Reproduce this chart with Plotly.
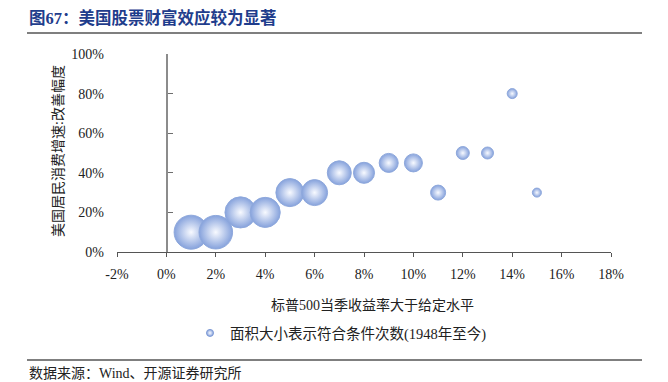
import plotly.graph_objects as go

# ---- data ----
x_levels = [0.01, 0.02, 0.03, 0.04, 0.05, 0.06, 0.07, 0.08, 0.09, 0.10, 0.11, 0.12, 0.13, 0.14, 0.15]
y_improve = [0.10, 0.10, 0.20, 0.20, 0.30, 0.30, 0.40, 0.40, 0.45, 0.45, 0.30, 0.50, 0.50, 0.80, 0.30]
counts = [185, 180, 155, 145, 126, 108, 92, 71, 58, 52, 36, 27, 23, 16, 13]
x_ticks = [-0.02, 0.0, 0.02, 0.04, 0.06, 0.08, 0.10, 0.12, 0.14, 0.16, 0.18]
x_tick_labels = ["-2%", "0%", "2%", "4%", "6%", "8%", "10%", "12%", "14%", "16%", "18%"]
y_ticks = [0.0, 0.2, 0.4, 0.6, 0.8, 1.0]
y_tick_labels = ["0%", "20%", "40%", "60%", "80%", "100%"]

title_text = "图67：美国股票财富效应较为显著"
x_title = "标普500当季收益率大于给定水平"
y_title = "美国居民消费增速:改善幅度"
legend_name = "面积大小表示符合条件次数(1948年至今)"
source_text = "数据来源：Wind、开源证券研究所"

W, H = 668, 382
OFF = 8  # page body margin
L, R, T, B = 117, 611, 54, 252  # plot area edges in window pixels
FONT = "Liberation Serif, Noto Sans CJK SC, serif"
FW, FH = W - OFF, H - OFF


def px(xp):
    return (xp - L) / (R - L)


def py(yp):
    return (B - yp) / (B - T)


fig = go.Figure()
fig.add_trace(go.Scatter(
    x=x_levels, y=y_improve, mode="markers", name=legend_name,
    marker=dict(
        size=counts, sizemode="area", sizeref=2 * max(counts) / 34 ** 2,
        color="#86a2dc",
        gradient=dict(type="radial", color="#f8faff"),
        line=dict(color="#8ea8dc", width=1),
        opacity=1,
    ),
    cliponaxis=False,
    showlegend=False,
))
# legend-only entry with a small bubble icon
fig.add_trace(go.Scatter(
    x=[None], y=[None], mode="markers", name=legend_name,
    marker=dict(size=7, color="#86a2dc", gradient=dict(type="radial", color="#f8faff"),
                line=dict(color="#7f9bd6", width=1)),
    showlegend=True,
))
# invisible trace to carry the y-axis drawn at x = 0
fig.add_trace(go.Scatter(x=[None], y=[None], yaxis="y2", showlegend=False))

fig.update_layout(
    width=FW, height=FH,
    margin=dict(l=L - OFF, r=W - R, t=T - OFF, b=H - B, pad=0),
    paper_bgcolor="white", plot_bgcolor="white",
    font=dict(family=FONT, size=14, color="#222222"),
    xaxis=dict(
        range=[-0.02, 0.18], tickvals=x_ticks, ticktext=x_tick_labels,
        showgrid=False, zeroline=False,
        showline=True, linecolor="#555555", linewidth=1.3,
        ticks="outside", ticklen=4, tickcolor="#555555", tickwidth=1,
        ticklabelstandoff=5,
        tickfont=dict(size=14, family=FONT, color="#222222"),
        domain=[0, 1], fixedrange=True,
    ),
    yaxis=dict(
        range=[0, 1.0], tickvals=y_ticks, ticktext=y_tick_labels,
        showgrid=False, zeroline=False, showline=False, ticks="",
        ticklabelstandoff=12,
        tickfont=dict(size=14, family=FONT, color="#222222"),
        fixedrange=True,
    ),
    yaxis2=dict(
        range=[0, 1.0], tickvals=y_ticks, overlaying="y", anchor="free",
        position=px(167), showticklabels=False,
        showgrid=False, zeroline=False,
        showline=True, linecolor="#8c8c8c", linewidth=2,
        ticks="inside", ticklen=5, tickcolor="#6e6e6e", tickwidth=1,
        fixedrange=True,
    ),
    legend=dict(
        orientation="h", x=px(190), xanchor="left", y=py(333), yanchor="middle",
        font=dict(size=14.5, family=FONT, color="#222222"),
        bgcolor="rgba(0,0,0,0)",
    ),
    showlegend=True,
)

annotations = [
    dict(text="<b>" + title_text + "</b>", x=px(27), y=py(18), xref="paper", yref="paper",
         xanchor="left", yanchor="middle", showarrow=False,
         font=dict(size=16.5, family=FONT, color="#1f3d8c")),
    dict(text=x_title, x=px(372), y=py(305), xref="paper", yref="paper",
         xanchor="center", yanchor="middle", showarrow=False,
         font=dict(size=14, family=FONT, color="#222222")),
    dict(text=y_title, x=px(58), y=py(151), xref="paper", yref="paper",
         xanchor="center", yanchor="middle", showarrow=False, textangle=-90,
         font=dict(size=14, family=FONT, color="#222222")),
    dict(text=source_text, x=px(27), y=py(373), xref="paper", yref="paper",
         xanchor="left", yanchor="middle", showarrow=False,
         font=dict(size=14, family=FONT, color="#222222")),
]
fig.update_layout(annotations=annotations)

fig.add_shape(type="line", xref="paper", yref="paper",
              x0=px(27), x1=px(642), y0=py(33), y1=py(33),
              line=dict(color="#7f7f7f", width=2))
fig.add_shape(type="line", xref="paper", yref="paper",
              x0=px(27), x1=px(642), y0=py(360), y1=py(360),
              line=dict(color="#7f7f7f", width=2))

fig.write_html("out.html")
